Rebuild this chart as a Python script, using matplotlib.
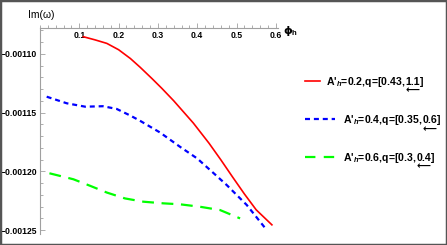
import matplotlib
matplotlib.use("Agg")
import matplotlib.pyplot as plt
from matplotlib.lines import Line2D
from matplotlib.patches import Rectangle
from matplotlib.ticker import MultipleLocator

# red curve, A'_h = 0.2
phi_red = [0.11, 0.14, 0.17, 0.20, 0.23, 0.255, 0.285, 0.31, 0.34, 0.39,
           0.43, 0.46, 0.49, 0.52, 0.55, 0.59]
im_red = [-1.0853e-3, -1.0880e-3, -1.0910e-3, -1.0964e-3, -1.1039e-3, -1.1114e-3,
          -1.1210e-3, -1.1293e-3, -1.1398e-3, -1.1588e-3, -1.1760e-3, -1.1901e-3,
          -1.2048e-3, -1.2192e-3, -1.2327e-3, -1.2455e-3]

# blue curve, A'_h = 0.4
phi_blue = [0.017, 0.068, 0.115, 0.16, 0.195, 0.23, 0.254, 0.305, 0.356, 0.40,
            0.44, 0.475, 0.526, 0.577]
im_blue = [-1.1364e-3, -1.1420e-3, -1.1449e-3, -1.1445e-3, -1.1468e-3, -1.1525e-3,
           -1.1568e-3, -1.1668e-3, -1.1790e-3, -1.1890e-3, -1.2010e-3, -1.2116e-3,
           -1.2286e-3, -1.2500e-3]

# green curve, A'_h = 0.6
phi_green = [0.024, 0.085, 0.127, 0.17, 0.216, 0.263, 0.314, 0.356, 0.407, 0.458, 0.509]
im_green = [-1.2016e-3, -1.2067e-3, -1.2122e-3, -1.2180e-3, -1.2230e-3, -1.2258e-3,
            -1.2272e-3, -1.2280e-3, -1.2301e-3, -1.2329e-3, -1.2400e-3]

x_ticks = [0.1, 0.2, 0.3, 0.4, 0.5, 0.6]
y_ticks = [-0.00110, -0.00115, -0.00120, -0.00125]
y_labels = ["\u22120.00110", "\u22120.00115", "\u22120.00120", "\u22120.00125"]

# legend text: prefix, arrowed part, suffix
legend_parts = [
    ("A'$_h$=0.2,q=[0.43,", "1.1", "]"),
    ("A'$_h$=0.4,q=[0.35,", "0.6", "]"),
    ("A'$_h$=0.6,q=[0.3,", "0.4", "]"),
]

FONT = ['Liberation Sans', 'DejaVu Sans']
plt.rcParams['font.family'] = FONT
plt.rcParams['lines.scale_dashes'] = False
plt.rcParams['mathtext.fontset'] = 'custom'
plt.rcParams['mathtext.it'] = 'Liberation Sans:italic:bold'
plt.rcParams['mathtext.rm'] = 'Liberation Sans:bold'

W, H = 447, 245
fig = plt.figure(figsize=(W / 100, H / 100), dpi=100)
ax = fig.add_axes([40 / W, 1 - 234 / H, (277.8 - 40) / W, (234 - 28) / H])

ax.plot(phi_red, im_red, color='#ff0000', lw=1.2)
ax.plot(phi_blue, im_blue, color='#0000ff', lw=1.6, dashes=(3.6, 2.8))
ax.plot(phi_green, im_green, color='#00ff00', lw=1.6, dashes=(8.5, 5.5))

ax.set_xlim(0, 0.605)
ax.set_ylim(-0.0012533, -0.0010779)

axis_col = '#a0a0a0'
ax.spines['top'].set_visible(False)
ax.spines['right'].set_visible(False)
ax.spines['bottom'].set_position(('axes', 1.0))
for s in ('bottom', 'left'):
    ax.spines[s].set_color(axis_col)
    ax.spines[s].set_linewidth(0.8)

ax.set_xticks(x_ticks)
ax.set_xticklabels([str(t) for t in x_ticks])
ax.xaxis.set_minor_locator(MultipleLocator(0.02))
ax.set_yticks(y_ticks)
ax.set_yticklabels(y_labels)
ax.yaxis.set_minor_locator(MultipleLocator(0.00001))
ax.tick_params(axis='both', which='both', direction='in', color=axis_col, width=0.6)
ax.tick_params(axis='both', which='major', length=3.5, labelsize=6.2)
ax.tick_params(axis='x', which='major', pad=2.5)
ax.tick_params(axis='y', which='major', pad=2)
ax.tick_params(axis='both', which='minor', length=2)
for lab in ax.get_xticklabels() + ax.get_yticklabels():
    lab.set_fontweight('bold')

fig.text(41 / W, 1 - 15 / H, "Im(\u03c9)", ha='center', va='center', fontsize=7.5)
fig.text(283 / W, 1 - 31 / H, "\u03d5$_{\\rm h}$", ha='left', va='center', fontsize=8,
         fontweight='bold', family=['DejaVu Sans'])

# manual legend
entries = [
    ('#ff0000', None, 1.2, 305, 320, 325.7, 80.7),
    ('#0000ff', (3.6, 2.8), 1.6, 305, 335, 343, 119.3),
    ('#00ff00', (7.5, 6.0), 1.6, 305, 335, 343, 156.7),
]
fig.canvas.draw()
renderer = fig.canvas.get_renderer()

# size the legend font so the first label is ~97 px wide, as in the reference
probe = fig.text(0, 0, "".join(legend_parts[0]), fontsize=8, fontweight='bold')
leg_fs = 8 * 97.0 / probe.get_window_extent(renderer).width
probe.remove()

for (col, dash, lw, x0, x1, tx, ty), (pre, mid, post) in zip(entries, legend_parts):
    yy = 1 - ty / H
    ln = Line2D([x0 / W, x1 / W], [yy, yy], color=col, lw=lw, transform=fig.transFigure)
    if dash:
        ln.set_dashes(dash)
    fig.add_artist(ln)
    kw = dict(fontsize=leg_fs, fontweight='bold', va='baseline', ha='left')
    base = yy - 4 / H
    t1 = fig.text(tx / W, base, pre, **kw)
    e1 = t1.get_window_extent(renderer)
    t2 = fig.text(e1.x1 / W, base, mid, **kw)
    e2 = t2.get_window_extent(renderer)
    fig.text(e2.x1 / W, base, post, **kw)
    # left arrow under the second q value
    fig.text((e2.x0 + e2.x1) / 2 / W, base - 5.5 / H, "\u27f5", ha='center', va='center',
             fontsize=7, fontweight='bold', family=['DejaVu Sans'])

fig.add_artist(Rectangle((0, 0), 1, 1, transform=fig.transFigure, fill=False,
                         edgecolor='#555555', lw=2.5))

fig.savefig("out.png", dpi=100)
